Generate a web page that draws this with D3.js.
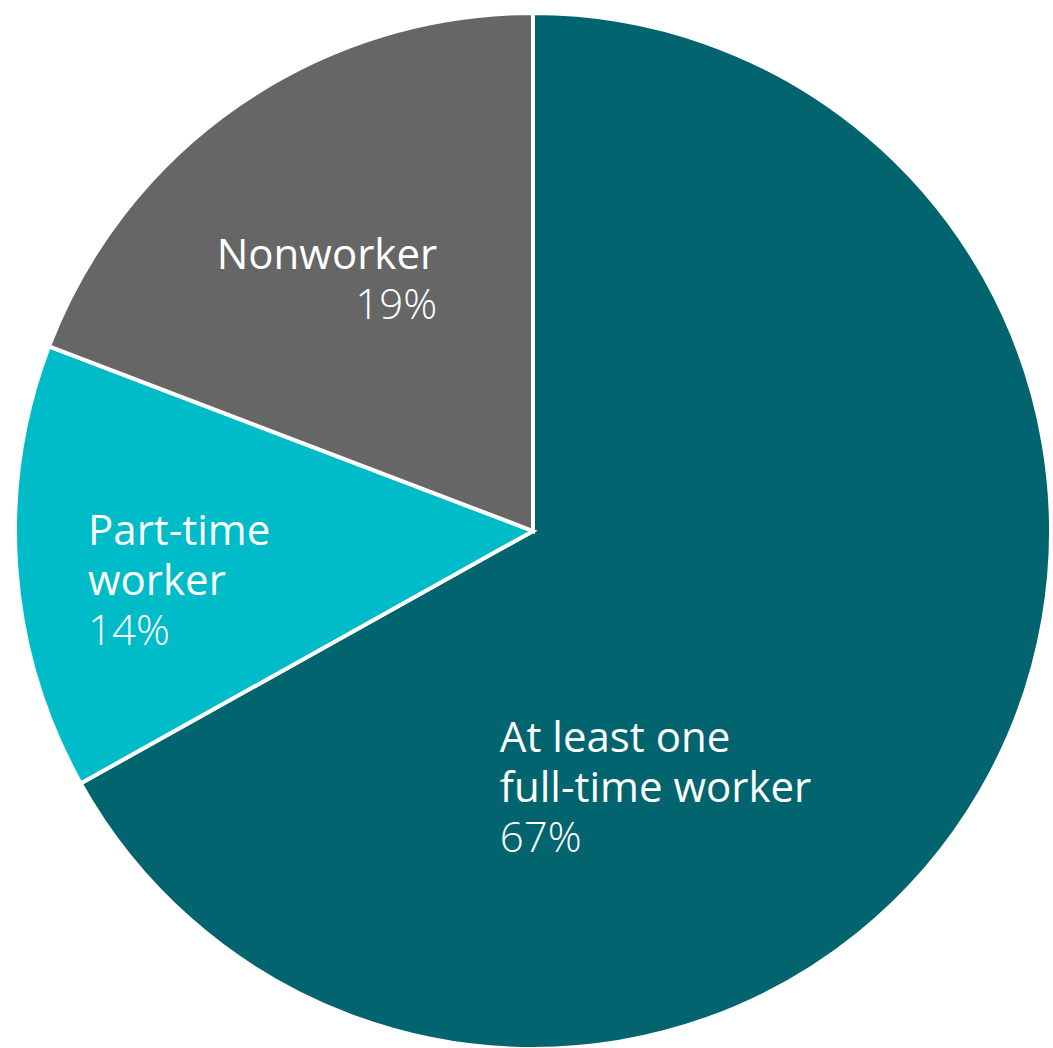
<!DOCTYPE html>
<html>
<head>
<meta charset="utf-8">
<script src="https://cdn.jsdelivr.net/npm/d3@7"></script>
<style>
  html, body { margin: 0; padding: 0; background: #ffffff; }
  svg { display: block; }
  text { font-family: "Open Sans", "Noto Sans", sans-serif; fill: #ffffff; }
</style>
</head>
<body>
<svg id="chart" width="1053" height="1048"></svg>
<script>
// ---- data ----
const categories = ["At least one full-time worker", "Part-time worker", "Nonworker"];
const values = [66.9, 13.9, 19.2];
const labelLines = [["At least one", "full-time worker"], ["Part-time", "worker"], ["Nonworker"]];
const valueLabels = ["67%", "14%", "19%"];
const colors = ["#02646E", "#00BCC9", "#666666"];

// ---- layout ----
const W = 1053, H = 1048;
const cx = 533, cy = 531, R = 518;
// label anchor positions as fraction of radius, plus alignment
const labelPlacement = [
  { fx: -0.064, fy: 0.427, anchor: "start" },
  { fx: -0.859, fy: 0.027, anchor: "start" },
  { fx: -0.185, fy: -0.506, anchor: "end" }
];
const lineH = 50;

const svg = d3.select("#chart");
const g = svg.append("g").attr("transform", `translate(${cx},${cy})`);

const pie = d3.pie().sort(null).value(d => d);
const arc = d3.arc().innerRadius(0).outerRadius(R);
const arcs = pie(values);

g.selectAll("path.slice")
  .data(arcs)
  .join("path")
  .attr("class", "slice")
  .attr("d", arc)
  .attr("fill", (d, i) => colors[i])
  .attr("stroke", "#ffffff")
  .attr("stroke-width", 4)
  .attr("stroke-linejoin", "miter");

arcs.forEach((a, i) => {
  const p = labelPlacement[i];
  const lines = labelLines[i].map(t => ({ t, w: 400 }))
    .concat([{ t: valueLabels[i], w: 300 }]);
  lines.forEach((ln, k) => {
    g.append("text")
      .attr("x", p.fx * R)
      .attr("y", p.fy * R + k * lineH)
      .attr("text-anchor", p.anchor)
      .style("font-size", "42px")
      .style("font-weight", ln.w)
      .text(ln.t);
  });
});
</script>
</body>
</html>
